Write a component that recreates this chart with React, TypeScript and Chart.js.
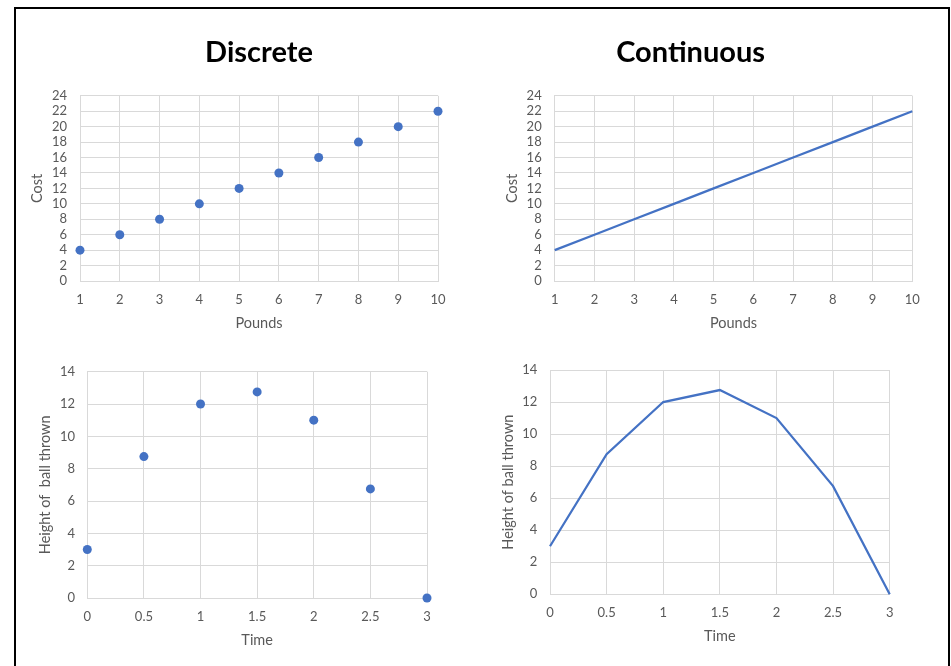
import React, { useEffect, useRef } from "react";
import { Chart, registerables } from "chart.js";

Chart.register(...registerables);

// Cost per pound (discrete and continuous views)
const pounds = [1, 2, 3, 4, 5, 6, 7, 8, 9, 10];
const cost = [4, 6, 8, 10, 12, 14, 16, 18, 20, 22];

// Height of a thrown ball over time
const time = [0, 0.5, 1, 1.5, 2, 2.5, 3];
const ballHeight = [3, 8.75, 12, 12.75, 11, 6.75, 0];

const costTicks = { min: 0, max: 24, step: 2 };
const poundTicks = { min: 1, max: 10, step: 1 };
const heightTicks = { min: 0, max: 14, step: 2 };
const timeTicks = { min: 0, max: 3, step: 0.5 };

const BLUE = "#4472C4";
const GRID = "#D9D9D9";
const TEXT = "#595959";
const FONT = "Lato, 'Open Sans', sans-serif";
const TICK_SIZE = 13;
const LABEL_SIZE = 14.5;

type Box = { left: number; top: number; width: number; height: number };

type PanelSpec = {
  box: Box;
  xs: number[];
  ys: number[];
  line: boolean;
  title?: string;
  titleFull?: boolean;
  xRange: { min: number; max: number; step: number };
  yRange: { min: number; max: number; step: number };
  xLabel: string;
  yLabel: string;
  pad: { left: number; right: number; top: number; bottom: number };
  yWidth: number;
  xHeight: number;
  yTickPad: number;
  yTitlePad: number;
  xTitlePad: number;
};

const plainNumber = (v: number | string) => String(v);

function buildConfig(p: PanelSpec): any {
  const points = p.xs.map((x, i) => ({ x, y: p.ys[i] }));
  return {
    type: "scatter",
    data: {
      datasets: [
        {
          data: points,
          showLine: p.line,
          borderColor: BLUE,
          backgroundColor: BLUE,
          borderWidth: p.line ? 2.25 : 0,
          pointRadius: p.line ? 0 : 4.5,
          pointBorderWidth: 0,
          pointHoverRadius: 4.5,
          clip: false,
          tension: 0,
        },
      ],
    },
    options: {
      animation: false,
      responsive: false,
      maintainAspectRatio: false,
      events: [],
      layout: { padding: p.pad },
      plugins: {
        legend: { display: false },
        tooltip: { enabled: false },
        title: {
          display: !!p.title,
          text: p.title || "",
          fullSize: !!p.titleFull,
          color: "#000000",
          font: { family: FONT, size: 29, weight: "bold", lineHeight: 1.2 },
          padding: { top: 15, bottom: 26 },
        },
      },
      scales: {
        x: {
          type: "linear",
          position: "bottom",
          min: p.xRange.min,
          max: p.xRange.max,
          afterFit: (s: any) => {
            s.height = p.xHeight;
          },
          ticks: {
            stepSize: p.xRange.step,
            autoSkip: false,
            maxRotation: 0,
            padding: 11,
            color: TEXT,
            font: { family: FONT, size: TICK_SIZE },
            callback: plainNumber,
          },
          grid: { color: GRID, lineWidth: 1, drawTicks: false },
          border: { color: GRID, width: 1 },
          title: {
            display: true,
            text: p.xLabel,
            color: TEXT,
            font: { family: FONT, size: LABEL_SIZE, lineHeight: 1.2 },
            padding: { top: 0, bottom: p.xTitlePad },
          },
        },
        y: {
          type: "linear",
          position: "left",
          min: p.yRange.min,
          max: p.yRange.max,
          afterFit: (s: any) => {
            s.width = p.yWidth;
          },
          ticks: {
            stepSize: p.yRange.step,
            autoSkip: false,
            padding: p.yTickPad,
            color: TEXT,
            font: { family: FONT, size: TICK_SIZE },
            callback: plainNumber,
          },
          grid: { color: GRID, lineWidth: 1, drawTicks: false },
          border: { color: GRID, width: 1 },
          title: {
            display: true,
            text: p.yLabel,
            color: TEXT,
            font: { family: FONT, size: LABEL_SIZE, lineHeight: 1.2 },
            padding: { top: p.yTitlePad, bottom: 0 },
          },
        },
      },
    },
  };
}

function Panel({ spec }: { spec: PanelSpec }) {
  const ref = useRef<HTMLCanvasElement | null>(null);
  useEffect(() => {
    if (!ref.current) return;
    const chart = new Chart(ref.current, buildConfig(spec));
    return () => chart.destroy();
  }, [spec]);
  const b = spec.box;
  return (
    <canvas
      ref={ref}
      width={b.width}
      height={b.height}
      style={{
        position: "absolute",
        left: b.left,
        top: b.top,
        width: b.width,
        height: b.height,
      }}
    />
  );
}

const panels: PanelSpec[] = [
  {
    box: { left: 20, top: 20, width: 440, height: 320 },
    xs: pounds,
    ys: cost,
    line: false,
    title: "Discrete",
    titleFull: false,
    xRange: poundTicks,
    yRange: costTicks,
    xLabel: "Pounds",
    yLabel: "Cost",
    pad: { left: 0, right: 22, top: 0, bottom: 0 },
    yWidth: 60,
    xHeight: 59,
    yTickPad: 13,
    yTitlePad: 9,
    xTitlePad: 8,
  },
  {
    box: { left: 469, top: 20, width: 466, height: 320 },
    xs: pounds,
    ys: cost,
    line: true,
    title: "Continuous",
    titleFull: true,
    xRange: poundTicks,
    yRange: costTicks,
    xLabel: "Pounds",
    yLabel: "Cost",
    pad: { left: 0, right: 22.7, top: 0, bottom: 0 },
    yWidth: 85.7,
    xHeight: 59,
    yTickPad: 13,
    yTitlePad: 34.6,
    xTitlePad: 8,
  },
  {
    box: { left: 20, top: 340, width: 429, height: 326 },
    xs: time,
    ys: ballHeight,
    line: false,
    xRange: timeTicks,
    yRange: heightTicks,
    xLabel: "Time",
    yLabel: "Height of  ball thrown",
    pad: { left: 0, right: 22, top: 31.7, bottom: 0 },
    yWidth: 67.3,
    xHeight: 68,
    yTickPad: 12.3,
    yTitlePad: 16.3,
    xTitlePad: 17.3,
  },
  {
    box: { left: 470, top: 340, width: 442, height: 326 },
    xs: time,
    ys: ballHeight,
    line: true,
    xRange: timeTicks,
    yRange: heightTicks,
    xLabel: "Time",
    yLabel: "Height of ball thrown",
    pad: { left: 0, right: 22.3, top: 30, bottom: 0 },
    yWidth: 80,
    xHeight: 71.7,
    yTickPad: 12.7,
    yTitlePad: 29.6,
    xTitlePad: 21.3,
  },
];

export default function App() {
  return (
    <div
      style={{
        position: "absolute",
        left: 0,
        top: 0,
        width: 951,
        height: 666,
        overflow: "hidden",
        background: "#ffffff",
      }}
    >
      <div
        style={{
          position: "absolute",
          left: 14,
          top: 7,
          width: 936,
          height: 720,
          border: "2px solid #000000",
          boxSizing: "border-box",
        }}
      />
      {panels.map((p, i) => (
        <Panel key={i} spec={p} />
      ))}
    </div>
  );
}
